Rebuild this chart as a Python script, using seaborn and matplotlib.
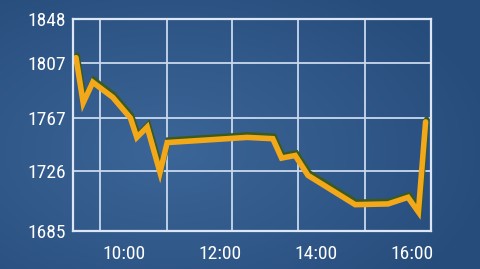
import numpy as np
import pandas as pd
import matplotlib
matplotlib.use("Agg")
import matplotlib.pyplot as plt
import matplotlib.patheffects as pe
from matplotlib import font_manager
import seaborn as sns

# ---- data ----
times = ["9:00", "9:09", "9:21", "9:46", "10:08", "10:16", "10:29", "10:45", "10:54",
         "12:34", "13:06", "13:17", "13:34", "13:50", "14:49", "15:30", "15:55", "16:08", "16:17"]
values = [1812, 1778, 1793, 1782, 1767, 1752, 1760, 1725, 1748,
          1752, 1751, 1736, 1738, 1723, 1703, 1703.5, 1708, 1698, 1764]
y_ticks = [1685, 1726, 1767, 1807, 1848]
x_tick_hours = [10, 12, 14, 16]
x_tick_labels = ["10:00", "12:00", "14:00", "16:00"]

# styling: positions of the (non-time-aligned) vertical grid lines and the uneven
# vertical spacing of the horizontal grid lines in the original graphic
grid_hours = [9.5, 10.896, 12.25, 13.625, 15.021]
y_grid_pos = [0, 60, 113, 168, 212]

def to_hours(t):
    h, m = t.split(":")
    return int(h) + int(m) / 60.0

df = pd.DataFrame({"hour": [to_hours(t) for t in times], "value": values})

sns.set_theme(style="white")

# pick a condensed sans if one is installed
fam, stretch, narrow = "Liberation Sans", "normal", False
cands = []
for f in font_manager.fontManager.ttflist:
    if f.style != "normal" or f.weight not in (400, "normal", "regular", "book"):
        continue
    st = str(f.stretch)
    if "Narrow" in f.name or "Condensed" in f.name or st in ("condensed", "semi-condensed", "extra-condensed"):
        cands.append((f.name, st))
prio = ["Liberation Sans Narrow", "Roboto Condensed", "Open Sans Condensed", "DejaVu Sans Condensed",
        "Roboto", "Open Sans", "Noto Sans", "DejaVu Sans"]
for p in prio:
    hit = [c for c in cands if c[0] == p]
    if hit:
        fam, stretch = hit[0]
        narrow = True
        break
plt.rcParams["font.family"] = [fam, "DejaVu Sans"]
plt.rcParams["font.stretch"] = stretch if narrow else "normal"
lab_size = 14 if narrow else 12.5

fig = plt.figure(figsize=(4.8, 2.69), dpi=100)
fig.patch.set_facecolor("#2e5786")

# background gradient
bg = fig.add_axes([0, 0, 1, 1], zorder=-10)
yy, xx = np.mgrid[0:269, 0:480]
r = np.sqrt(((xx - 170) / 330.0) ** 2 + ((yy - 150) / 200.0) ** 2)
c0 = np.array([0x3c, 0x66, 0x98]) / 255.0
c1 = np.array([0x26, 0x4c, 0x7b]) / 255.0
t = np.clip(r, 0, 1)[..., None]
img = c0 * (1 - t) + c1 * t
bg.imshow(img, aspect="auto", extent=[0, 1, 0, 1])
bg.set_axis_off()

ax = fig.add_axes([73 / 480, 1 - 231 / 269, (431 - 73) / 480, (231 - 19) / 269])
ax.patch.set_visible(False)

fwd = lambda v: np.interp(v, y_ticks, y_grid_pos)
inv = lambda p: np.interp(p, y_grid_pos, y_ticks)
ax.set_yscale("function", functions=(fwd, inv))

sns.lineplot(data=df, x="hour", y="value", ax=ax, color="#f3a81a", linewidth=4.0,
             solid_joinstyle="miter")
line = ax.lines[0]
line.set_path_effects([pe.SimpleLineShadow(offset=(0.8, 1.8), shadow_color="#3b5a1c", alpha=1.0),
                       pe.Normal()])

ax.set_xlim(8.9375, 16.396)
ax.set_ylim(1685, 1848)
ax.set_yticks(y_ticks)
ax.set_yticklabels([str(v) for v in y_ticks])
ax.set_xticks(x_tick_hours)
ax.set_xticklabels(x_tick_labels)
ax.set_xticks(grid_hours, minor=True)
ax.grid(False)
ax.grid(True, which="minor", axis="x", color="#c9d9ee", linewidth=1.3)
ax.grid(True, which="major", axis="y", color="#c9d9ee", linewidth=1.3)
ax.set_axisbelow(True)
ax.tick_params(which="both", length=0)
ax.tick_params(axis="y", pad=5, labelsize=lab_size, colors="white")
ax.tick_params(axis="x", pad=10, labelsize=lab_size, colors="white")
ax.set_xlabel("")
ax.set_ylabel("")
for s in ax.spines.values():
    s.set_visible(True)
    s.set_color("#dce6f4")
    s.set_linewidth(1.6)

fig.savefig("out.png", dpi=100, facecolor=fig.get_facecolor())
